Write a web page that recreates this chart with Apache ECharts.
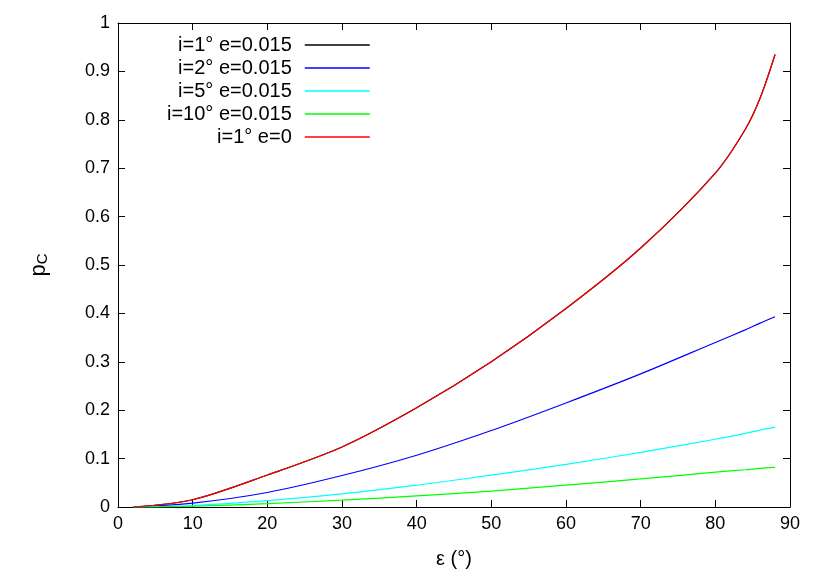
<!DOCTYPE html><html><head><meta charset="utf-8"><script src="https://cdn.jsdelivr.net/npm/echarts@6/dist/echarts.min.js"></script></head><body style="margin:0"><div id="c" style="width:830px;height:581px"></div><script>
const eps=[2,10,20,30,40,50,60,70,80,84,86,88];
const i1e015=[0,0.015,0.066,0.124,0.205,0.3,0.41,0.535,0.69,0.78,0.845,0.935];
const i2e015=[0,0.008,0.03,0.065,0.107,0.158,0.215,0.275,0.34,0.366,0.38,0.393];
const i5e015=[0,0.003,0.013,0.027,0.045,0.066,0.088,0.113,0.14,0.152,0.159,0.165];
const i10e015=[0,0.0015,0.007,0.014,0.023,0.033,0.045,0.058,0.072,0.077,0.08,0.082];
const i1e0=[0,0.015,0.066,0.124,0.205,0.3,0.41,0.535,0.69,0.78,0.845,0.935];
const names=['i=1° e=0.015','i=2° e=0.015','i=5° e=0.015','i=10° e=0.015','i=1° e=0'];
const cols=['#000000','#0000ff','#00ffff','#00ff00','#ff0000'];
const data=[i1e015,i2e015,i5e015,i10e015,i1e0];
const f='Liberation Sans';
const ax={axisLine:{onZero:false,lineStyle:{color:'#000'}},axisTick:{inside:true,length:7,lineStyle:{color:'#000'}},splitLine:{show:false},axisLabel:{color:'#000',fontSize:18,fontFamily:f}};
const ch=echarts.init(document.getElementById('c'));
ch.setOption({animation:false,
grid:{left:118,right:40,top:23,bottom:74},
legend:{orient:'vertical',left:162,top:30,align:'right',itemGap:3,itemWidth:65,itemHeight:1.5,icon:'rect',data:names,textStyle:{fontSize:20,fontFamily:f,color:'#000',padding:[0,8,0,0]}},
xAxis:[{type:'value',min:0,max:90,interval:10,...ax,name:'ε (°)',nameLocation:'middle',nameGap:42,nameTextStyle:{fontSize:20,fontFamily:f,color:'#000'}},
{type:'value',min:0,max:90,interval:10,position:'top',...ax,axisLabel:{show:false}}],
yAxis:[{type:'value',min:0,max:1,interval:0.1,...ax,name:'{a|p}{b|C}',nameLocation:'middle',nameGap:68,nameRotate:90,nameTextStyle:{rich:{a:{fontSize:22,fontFamily:f},b:{fontSize:15,fontFamily:f,padding:[8,0,0,0]}}}},
{type:'value',min:0,max:1,interval:0.1,position:'right',...ax,axisLabel:{show:false}}],
series:data.map((d,k)=>({name:names[k],type:'line',smooth:0.3,showSymbol:false,color:cols[k],lineStyle:{width:1.2,color:cols[k]},data:eps.map((x,j)=>[x,d[j]])}))
});
</script></body></html>
